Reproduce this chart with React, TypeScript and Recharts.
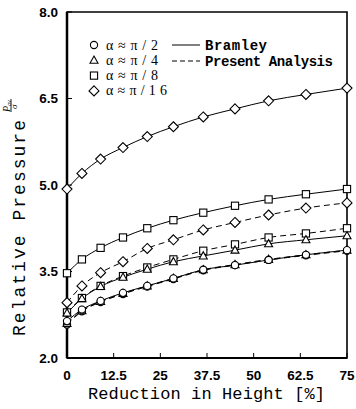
import { LineChart, Line, XAxis, YAxis, ReferenceArea, Legend } from 'recharts';

// reduction in height [%] at which each point was computed
const reduction = [0, 4, 9, 15, 21.5, 28.5, 36.5, 45, 54, 64, 75];

// Bramley (solid)
const bramleyPi2 = [2.64, 2.84, 2.99, 3.13, 3.25, 3.38, 3.53, 3.61, 3.7, 3.79, 3.87];
const bramleyPi4 = [2.78, 3.03, 3.24, 3.4, 3.54, 3.67, 3.77, 3.87, 3.98, 4.05, 4.12];
const bramleyPi8 = [3.47, 3.71, 3.91, 4.09, 4.25, 4.39, 4.52, 4.64, 4.75, 4.84, 4.93];
const bramleyPi16 = [4.93, 5.2, 5.45, 5.65, 5.84, 6.01, 6.18, 6.32, 6.46, 6.57, 6.68];

// Present analysis (dashed)
const presentPi2 = [2.58, 2.81, 2.97, 3.11, 3.24, 3.37, 3.52, 3.61, 3.7, 3.78, 3.86];
const presentPi4 = [2.6, 2.82, 2.98, 3.12, 3.25, 3.38, 3.53, 3.62, 3.71, 3.79, 3.87];
const presentPi8 = [2.79, 3.04, 3.25, 3.42, 3.57, 3.71, 3.86, 3.97, 4.09, 4.16, 4.25];
const presentPi16 = [2.96, 3.25, 3.48, 3.67, 3.9, 4.05, 4.22, 4.35, 4.48, 4.6, 4.69];

const xTicks = [0, 12.5, 25, 37.5, 50, 62.5, 75];
const yTicks = [2, 3.5, 5, 6.5, 8];

const angleLabels = ['α≈π/2', 'α≈π/4', 'α≈π/8', 'α≈π/16'];

type Shape = 'circle' | 'triangle' | 'square' | 'diamond';

function marker(shape: Shape, cx: number, cy: number, key?: string | number) {
  const p = { fill: '#fff', stroke: '#000', strokeWidth: 1.1 };
  if (shape === 'circle') return <circle key={key} cx={cx} cy={cy} r={3.6} {...p} />;
  if (shape === 'square') return <rect key={key} x={cx - 3.6} y={cy - 3.6} width={7.2} height={7.2} {...p} />;
  if (shape === 'triangle')
    return <polygon key={key} points={`${cx},${cy - 4.2} ${cx + 4},${cy + 3} ${cx - 4},${cy + 3}`} {...p} />;
  return <polygon key={key} points={`${cx},${cy - 5} ${cx + 5},${cy} ${cx},${cy + 5} ${cx - 5},${cy}`} {...p} />;
}

const makeDot = (shape: Shape) => (props: any) => marker(shape, props.cx, props.cy, props.index);

const series: { key: string; values: number[]; shape: Shape; dashed: boolean }[] = [
  { key: 'pP2', values: presentPi2, shape: 'circle', dashed: true },
  { key: 'pP4', values: presentPi4, shape: 'triangle', dashed: true },
  { key: 'pP8', values: presentPi8, shape: 'square', dashed: true },
  { key: 'pP16', values: presentPi16, shape: 'diamond', dashed: true },
  { key: 'bP2', values: bramleyPi2, shape: 'circle', dashed: false },
  { key: 'bP4', values: bramleyPi4, shape: 'triangle', dashed: false },
  { key: 'bP8', values: bramleyPi8, shape: 'square', dashed: false },
  { key: 'bP16', values: bramleyPi16, shape: 'diamond', dashed: false },
];

const data = reduction.map((r, i) => {
  const row: Record<string, number> = { r };
  series.forEach((s) => {
    row[s.key] = s.values[i];
  });
  return row;
});

const tickFont = { fill: '#000', fontSize: 13.5, fontWeight: 700, fontFamily: 'Liberation Sans, Arial, sans-serif' };
const mono = 'Liberation Mono, Courier New, monospace';
const serif = 'Liberation Serif, Times New Roman, serif';

function renderLegend() {
  const shapes: Shape[] = ['circle', 'triangle', 'square', 'diamond'];
  return (
    <svg width={356} height={100} style={{ display: 'block' }}>
      {angleLabels.map((t, i) => (
        <g key={t}>
          {marker(shapes[i], 94, 45 + i * 15.3)}
          <text
            x={106}
            y={49.5 + i * 15.3}
            fontSize={14}
            fontFamily={serif}
            textLength={t.length === 5 ? 52 : 61}
            lengthAdjust="spacing"
          >
            {t}
          </text>
        </g>
      ))}
      <line x1={172} x2={200} y1={45} y2={45} stroke="#000" strokeWidth={1} />
      <line x1={172} x2={200} y1={61} y2={61} stroke="#000" strokeWidth={1} strokeDasharray="5 3" />
      <text x={205} y={50} fontSize={14} fontFamily={mono} fontWeight={700} textLength={62} lengthAdjust="spacing">
        Bramley
      </text>
      <text x={205} y={66} fontSize={14} fontFamily={mono} fontWeight={700} textLength={128} lengthAdjust="spacing">
        Present Analysis
      </text>
    </svg>
  );
}

function XTitle() {
  return (
    <text x={88} y={399} fontSize={17} fontFamily={mono} textLength={237} lengthAdjust="spacing">
      Reduction in Height [%]
    </text>
  );
}

function YTitle() {
  return (
    <g transform="translate(25, 336) rotate(-90)">
      <text x={0} y={0} fontSize={18} fontFamily={mono} textLength={216} lengthAdjust="spacing">
        Relative Pressure
      </text>
      <text x={224} y={-15.5} fontSize={10} fontStyle="italic" fontFamily={serif}>
        P
      </text>
      <text x={230} y={-14.5} fontSize={6} fontStyle="italic" fontFamily={serif}>
        av
      </text>
      <line x1={224} x2={237} y1={-14} y2={-14} stroke="#000" strokeWidth={0.9} />
      <text x={227} y={-8} fontSize={9} fontStyle="italic" fontFamily={serif}>
        σ
      </text>
    </g>
  );
}

export default function App() {
  return (
    <div style={{ position: 'absolute', left: 0, top: 0, width: 356, height: 409, background: '#fff' }}>
      <LineChart width={356} height={409} data={data} margin={{ top: 12, right: 9, left: 0, bottom: 21 }}>
        <XAxis
          dataKey="r"
          type="number"
          domain={[0, 75]}
          ticks={xTicks}
          tick={tickFont}
          tickSize={-5}
          tickMargin={17}
          tickLine={{ stroke: '#000' }}
          axisLine={{ stroke: '#000', strokeWidth: 2 }}
          height={30}
          label={<XTitle />}
        />
        <YAxis
          type="number"
          domain={[2, 8]}
          ticks={yTicks}
          tick={tickFont}
          tickFormatter={(v: number) => v.toFixed(1)}
          tickSize={-5}
          tickMargin={14}
          tickLine={{ stroke: '#000' }}
          axisLine={{ stroke: '#000', strokeWidth: 2.5 }}
          width={67}
          label={<YTitle />}
        />
        <ReferenceArea x1={0} x2={75} y1={2} y2={8} fill="none" stroke="#000" strokeWidth={1.6} />
        {series.map((s) => (
          <Line
            key={s.key}
            dataKey={s.key}
            type="monotone"
            stroke="#000"
            strokeWidth={1}
            strokeDasharray={s.dashed ? '6 4' : undefined}
            dot={makeDot(s.shape)}
            activeDot={false}
            isAnimationActive={false}
          />
        ))}
        <Legend
          layout="vertical"
          align="center"
          verticalAlign="middle"
          content={renderLegend}
          wrapperStyle={{ position: 'absolute', left: 0, top: 0, width: 356, height: 100 }}
        />
      </LineChart>
    </div>
  );
}
